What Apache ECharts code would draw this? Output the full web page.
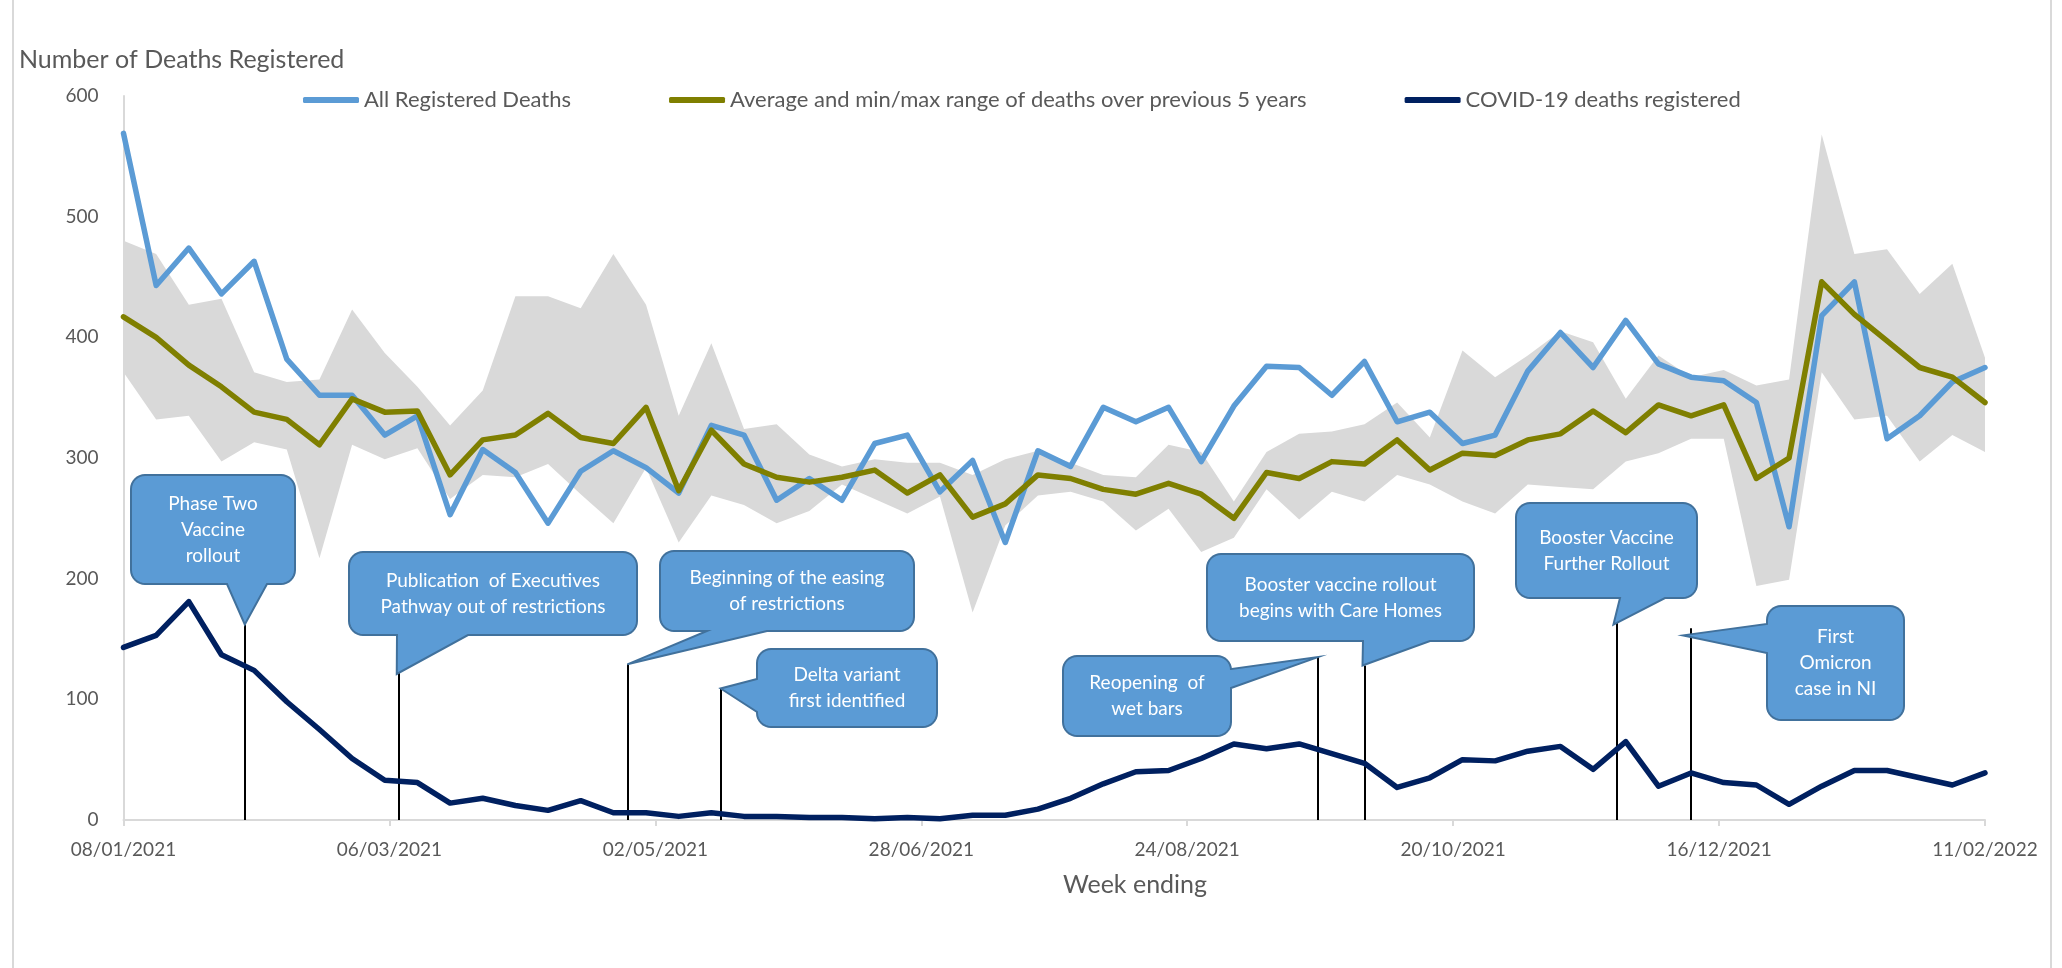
<!DOCTYPE html>
<html><head><meta charset="utf-8">
<script src="https://cdn.jsdelivr.net/npm/echarts@6/dist/echarts.min.js"></script>
<style>html,body{margin:0;padding:0;background:#fff}#c{width:2062px;height:968px}</style>
</head><body><div id="c"></div>
<script>
// ---------- DATA ----------
const weekEnding = ['2021-01-08','2021-01-15','2021-01-22','2021-01-29','2021-02-05','2021-02-12','2021-02-19','2021-02-26','2021-03-05','2021-03-12','2021-03-19','2021-03-26','2021-04-02','2021-04-09','2021-04-16','2021-04-23','2021-04-30','2021-05-07','2021-05-14','2021-05-21','2021-05-28','2021-06-04','2021-06-11','2021-06-18','2021-06-25','2021-07-02','2021-07-09','2021-07-16','2021-07-23','2021-07-30','2021-08-06','2021-08-13','2021-08-20','2021-08-27','2021-09-03','2021-09-10','2021-09-17','2021-09-24','2021-10-01','2021-10-08','2021-10-15','2021-10-22','2021-10-29','2021-11-05','2021-11-12','2021-11-19','2021-11-26','2021-12-03','2021-12-10','2021-12-17','2021-12-24','2021-12-31','2022-01-07','2022-01-14','2022-01-21','2022-01-28','2022-02-04','2022-02-11'];
const allDeaths = [569,443,474,436,463,382,352,352,319,335,253,307,288,246,289,306,292,271,327,319,265,283,265,312,319,272,298,230,306,293,342,330,342,297,343,376,375,352,380,330,338,312,319,372,404,375,414,378,367,364,346,243,418,446,316,335,363,375];
const avg5yr = [417,400,377,359,338,332,311,349,338,339,286,315,319,337,317,312,342,273,323,295,284,280,284,290,271,286,251,262,286,283,274,270,279,270,250,288,283,297,295,315,290,304,302,315,320,339,321,344,335,344,283,300,446,419,397,375,367,346];
const min5yr = [371,332,335,297,313,307,217,311,299,308,266,286,284,295,270,246,292,230,269,261,246,256,278,266,254,268,172,244,269,272,264,240,258,222,234,274,249,272,264,286,278,264,254,278,276,274,297,304,316,316,194,199,371,332,335,297,319,305];
const max5yr = [480,469,427,432,371,363,365,423,387,359,327,356,434,434,424,469,427,335,395,324,328,303,293,299,296,296,286,299,306,296,286,284,311,305,264,305,320,322,328,346,317,389,367,385,405,396,349,385,367,373,360,365,568,469,473,436,461,383];
const covidDeaths = [143,153,181,137,124,98,75,51,33,31,14,18,12,8,16,6,6,3,6,3,3,2,2,1,2,1,4,4,9,18,30,40,41,51,63,59,63,55,47,27,35,50,49,57,61,42,65,28,39,31,29,13,28,41,41,35,29,39];
const xTickLabels = ['08/01/2021','06/03/2021','02/05/2021','28/06/2021','24/08/2021','20/10/2021','16/12/2021','11/02/2022'];
const seriesNames = ['All Registered Deaths','Average and min/max range of deaths over previous 5 years','COVID-19 deaths registered'];
const annotDates = ['2021-02-03','2021-03-08','2021-04-26','2021-05-16','2021-09-21','2021-10-01','2021-11-24','2021-12-10'];
const annotLineTop = [162,131,129,109,135,128,166,159];
const annotTip = [162,121,129,109,135,128,162,153];
const annotText = ['Phase Two\nVaccine\nrollout','Publication  of Executives\nPathway out of restrictions','Beginning of the easing\nof restrictions','Delta variant\nfirst identified','Reopening  of\nwet bars','Booster vaccine rollout\nbegins with Care Homes','Booster Vaccine\nFurther Rollout','First\nOmicron\ncase in NI'];

// ---------- LAYOUT (pixels, styling only) ----------
const calloutLayout = [
  {x:131,y:475,w:164,h:109,side:'bottom',base:[227,267],dx:0},
  {x:349,y:552,w:288,h:83,side:'bottom',base:[397,468],dx:-2},
  {x:660,y:551,w:254,h:80,side:'bottom',base:[707,767],dx:0},
  {x:757,y:649,w:180,h:78,side:'left',base:[679,712],dx:0},
  {x:1063,y:656,w:168,h:80,side:'right',base:[669,688],dx:0},
  {x:1207,y:554,w:267,h:87,side:'bottom',base:[1363,1430],dx:-2},
  {x:1516,y:503,w:181,h:95,side:'bottom',base:[1620,1665],dx:-3},
  {x:1767,y:606,w:137,h:114,side:'left',base:[624,653],dx:-8}
];

const t0 = Date.parse(weekEnding[0]);
const dayOf = d => Math.round((Date.parse(d) - t0) / 864e5);
const xDays = weekEnding.map(dayOf);
const pair = arr => arr.map((v, i) => [xDays[i], v]);
const bandData = xDays.map((d, i) => [d, min5yr[i], max5yr[i]]);
const lastDay = xDays[xDays.length - 1];
const tickStep = lastDay / (xTickLabels.length - 1);

const FONT = 'Lato, "Noto Sans", sans-serif';
const GREY_TXT = '#595959';
const LW = 5.5;

const chart = echarts.init(document.getElementById('c'), null, {renderer: 'canvas'});
const option = {
  animation: false,
  backgroundColor: '#fff',
  title: {text: 'Number of Deaths Registered', left: 14, top: 42,
    textStyle: {fontFamily: FONT, fontSize: 25, fontWeight: 'normal', color: GREY_TXT}},
  legend: {
    data: seriesNames, left: 298, top: 84, itemGap: 98, itemWidth: 56, itemHeight: 6,
    icon: 'roundRect', textStyle: {fontFamily: FONT, fontSize: 22, color: GREY_TXT}
  },
  grid: {left: 123.5, right: 77, top: 96, bottom: 148},
  xAxis: {
    type: 'value', min: 0, max: lastDay, interval: tickStep,
    axisLine: {lineStyle: {color: '#d9d9d9', width: 2}},
    axisTick: {show: true, length: 6, lineStyle: {color: '#d9d9d9', width: 2}},
    splitLine: {show: false},
    axisLabel: {margin: 20, fontFamily: FONT, fontSize: 19, color: GREY_TXT,
      formatter: v => xTickLabels[Math.round(v / tickStep)] || ''}
  },
  yAxis: {
    type: 'value', min: 0, max: 600, interval: 100,
    axisLine: {show: true, lineStyle: {color: '#d9d9d9', width: 2}},
    axisTick: {show: false}, splitLine: {show: false},
    axisLabel: {margin: 25, fontFamily: FONT, fontSize: 19, color: GREY_TXT}
  },
  series: [
    {name: 'band', type: 'custom', data: bandData, silent: true, z: 1,
      encode: {x: 0, y: [1, 2]},
      renderItem: (params, api) => {
        if (params.dataIndex !== 0) return null;
        const upper = bandData.map(r => api.coord([r[0], r[2]]));
        const lower = bandData.map(r => api.coord([r[0], r[1]])).reverse();
        return {type: 'polygon', shape: {points: upper.concat(lower)},
          style: {fill: '#d9d9d9', stroke: 'none'}};
      }},
    {name: seriesNames[0], type: 'line', data: pair(allDeaths), symbol: 'none',
      color: '#5b9bd5', lineStyle: {color: '#5b9bd5', width: LW, join: 'round', cap: 'round'}, z: 3},
    {name: seriesNames[1], type: 'line', data: pair(avg5yr), symbol: 'none',
      color: '#7f7f00', lineStyle: {color: '#7f7f00', width: LW, join: 'round', cap: 'round'}, z: 4},
    {name: seriesNames[2], type: 'line', data: pair(covidDeaths), symbol: 'none',
      color: '#002060', lineStyle: {color: '#002060', width: LW, join: 'round', cap: 'round'}, z: 5,
      markLine: {silent: true, symbol: 'none', label: {show: false}, animation: false,
        lineStyle: {color: '#000', width: 2, type: 'solid'},
        data: annotDates.map((d, i) => [{coord: [dayOf(d), 0]}, {coord: [dayOf(d), annotLineTop[i]]}])}
    }
  ]
};
chart.setOption(option);

function calloutPoints(b, tip) {
  const r = 14, pts = [];
  const arc = (cx, cy, a0, a1) => { for (let k = 0; k <= 8; k++) { const a = a0 + (a1 - a0) * k / 8; pts.push([cx + r * Math.cos(a), cy + r * Math.sin(a)]); } };
  const L = b.x, R = b.x + b.w, T = b.y, B = b.y + b.h;
  arc(L + r, T + r, Math.PI, 1.5 * Math.PI);
  arc(R - r, T + r, 1.5 * Math.PI, 2 * Math.PI);
  if (b.side === 'right') { pts.push([R, b.base[0]], tip, [R, b.base[1]]); }
  arc(R - r, B - r, 0, 0.5 * Math.PI);
  if (b.side === 'bottom') { pts.push([b.base[1], B], tip, [b.base[0], B]); }
  arc(L + r, B - r, 0.5 * Math.PI, Math.PI);
  if (b.side === 'left') { pts.push([L, b.base[1]], tip, [L, b.base[0]]); }
  return pts;
}

const graphics = [];
calloutLayout.forEach((b, i) => {
  const p = chart.convertToPixel({gridIndex: 0}, [dayOf(annotDates[i]), annotTip[i]]);
  const tip = [p[0] + b.dx, p[1]];
  graphics.push({type: 'polygon', z: 100, silent: true,
    shape: {points: calloutPoints(b, tip)},
    style: {fill: '#5b9bd5', stroke: '#41719c', lineWidth: 2}});
  graphics.push({type: 'text', z: 101, silent: true,
    style: {text: annotText[i], x: b.x + b.w / 2, y: b.y + b.h / 2,
      textAlign: 'center', textVerticalAlign: 'middle', align: 'center', verticalAlign: 'middle',
      fill: '#ffffff', font: '19px ' + FONT, lineHeight: 26}});
});
graphics.push({type: 'text', z: 50, silent: true,
  style: {text: 'Week ending', x: 1135, y: 885, textAlign: 'center', textVerticalAlign: 'middle',
    align: 'center', verticalAlign: 'middle', fill: GREY_TXT, font: '25px ' + FONT}});
graphics.push({type: 'line', z: 50, silent: true, shape: {x1: 13, y1: 0, x2: 13, y2: 968}, style: {stroke: '#d9d9d9', lineWidth: 2}});
graphics.push({type: 'line', z: 50, silent: true, shape: {x1: 2051, y1: 0, x2: 2051, y2: 968}, style: {stroke: '#d9d9d9', lineWidth: 2}});
chart.setOption({graphic: graphics});
</script>
</body></html>
